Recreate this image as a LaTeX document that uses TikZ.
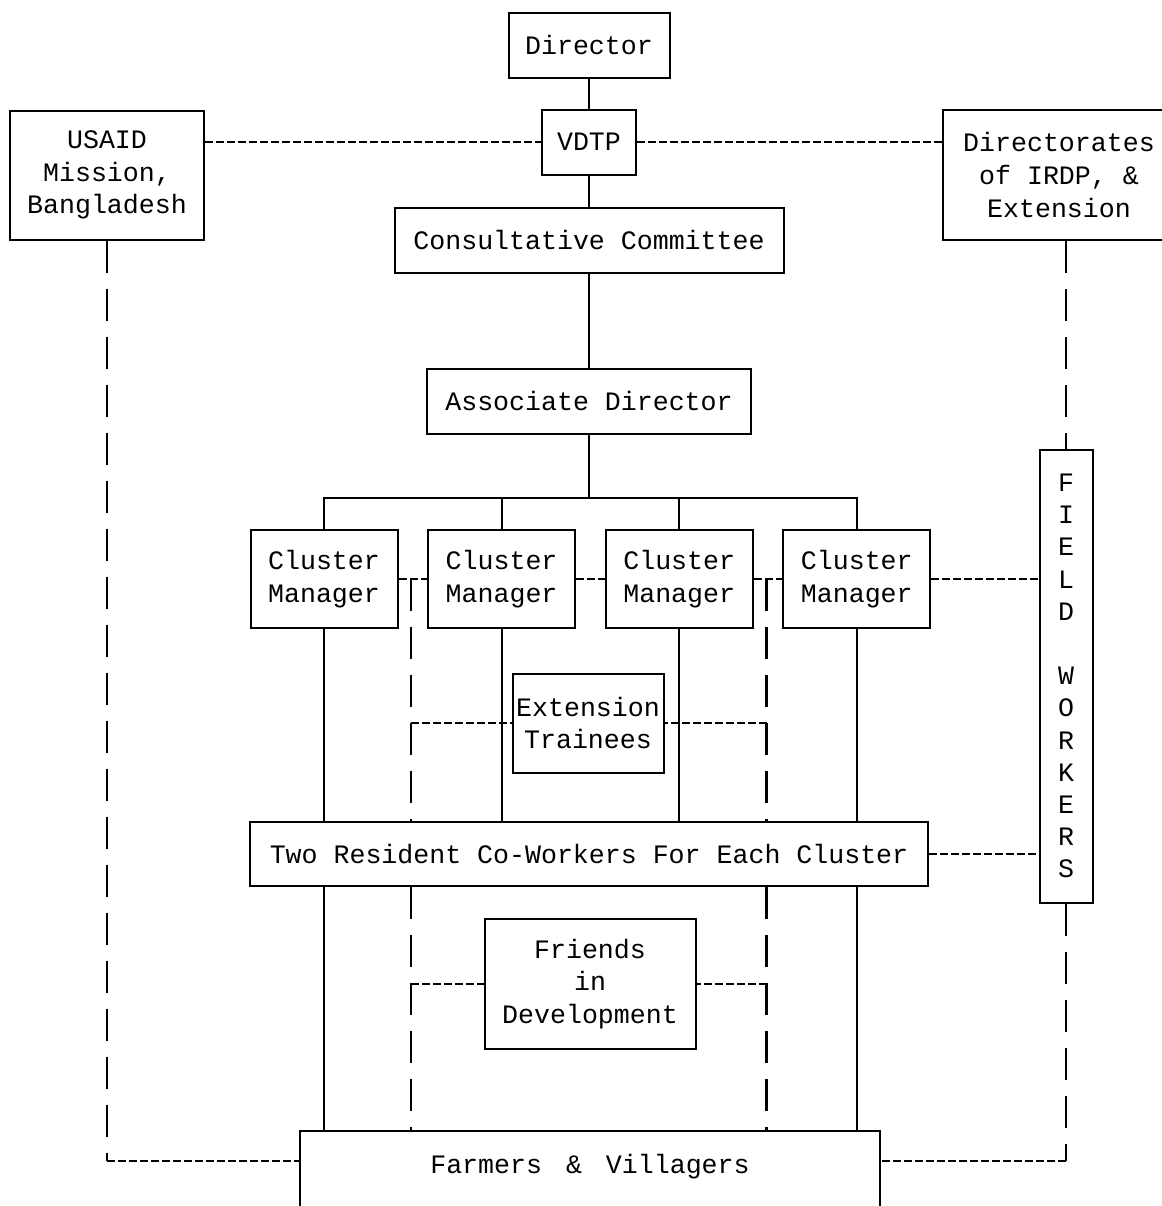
\documentclass[tikz,border=0pt]{standalone}
\usepackage{fontspec}
\newfontfamily\typer{Liberation Mono}
\usetikzlibrary{positioning}
\tikzset{
box/.style={
	  draw, line width=1pt, align=center, inner sep=0pt,
	    font=\typer\fontsize{13.3}{16.3}\selectfont},
linkh/.style={draw, line width=1.1pt, dash pattern=on 4pt off 1.5pt},
linkv/.style={draw, line width=1.1pt, dash pattern=on 16pt off 8pt}
}
\newcommand{\clmgr}{Cluster\\Manager}

\begin{document}
\begin{tikzpicture}[x=0.5pt, y=-0.5pt, line width=1pt,
	mgr/.style={box, minimum width=73.5pt, minimum height=49pt}]
	\useasboundingbox (0,0) rectangle (1162,1206);
	\node[box, minimum width=80.5pt, minimum height=32.5pt] (dir) at (589,45) {Director};
	\node[box, minimum width=47pt, minimum height=32.5pt] (vdtp) at (589,142) {VDTP};
	\node[box, minimum width=97pt, minimum height=64.5pt] (usaid) at (107,175) {USAID\\Mission,\\Bangladesh};
	\node[box, minimum width=116pt, minimum height=65pt] (irdp) at (1059,175) {Directorates\\of IRDP, \&\\Extension};
	\node[box, minimum width=194.5pt, minimum height=32.5pt] (cons) at (589,240) {Consultative Committee};
	\node[box, minimum width=162pt, minimum height=32.5pt] (assoc) at (589,401) {Associate Director};
	\node[mgr] (cm1) at (324,579) {\clmgr};
	\node[mgr, right=14.3pt of cm1] (cm2) {\clmgr};
	\node[mgr, right=14.3pt of cm2] (cm3) {\clmgr};
	\node[mgr, right=14.3pt of cm3] (cm4) {\clmgr};
	\node[box, minimum width=26.5pt, minimum height=226.5pt, font=\typer\fontsize{13.3}{16.1}\selectfont] (field) at (1066,676)
		{F\\I\\E\\L\\D\\~\\W\\O\\R\\K\\E\\R\\S};
	\node[box, minimum width=75.5pt, minimum height=49.5pt] (ext) at (588,723) {Extension\\Trainees};
	\node[box, minimum width=339pt, minimum height=32pt] (crew) at (589,854) {Two Resident Co-Workers For Each Cluster};
	\node[box, minimum width=105.5pt, minimum height=65pt] (friends) at (590,984) {Friends\\in\\Development};
	\node[box, anchor=north, minimum width=290pt, text height=21pt, text depth=40pt] (farm) at (590,1130)
		{Farmers\hspace{12pt}\&\hspace{12pt}Villagers};

	\coordinate (bus) at (589,498);
	\coordinate (fw) at ([yshift=6pt]farm.base west);
	\coordinate (fe) at ([yshift=6pt]farm.base east);
	\path (cm1.east) -- (cm2.west) coordinate[pos=0.45] (la);
	\path (cm3.east) -- (cm4.west) coordinate[pos=0.45] (ra);

	\draw (dir) -- (vdtp);
	\draw (vdtp) -- (cons);
	\draw (cons) -- (assoc);
	\draw (assoc.south) -- (bus);
	\draw (cm1.north) |- (bus) -| (cm4.north);
	\foreach \c in {cm2,cm3} \draw (\c.north) -- (\c.north |- bus);
	\foreach \c in {cm1,cm2,cm3,cm4} \draw (\c.south) -- (\c.south |- crew.north);
	\foreach \c in {cm1,cm4} \draw (\c.south |- crew.south) -- (\c.south |- farm.north);

	\draw[linkh] (usaid.east |- vdtp) -- (vdtp.west);
	\draw[linkh] (vdtp.east) -- (vdtp.east -| irdp.west);
	\draw[linkh] (cm1.east) -- (cm2.west);
	\draw[linkh] (cm2.east) -- (cm3.west);
	\draw[linkh] (cm3.east) -- (cm4.west);
	\draw[linkh] (cm4.east) -- (cm4.east -| field.west);
	\draw[linkh] (crew.east) -- (crew.east -| field.west);

	\foreach \a in {la,ra} {
		\draw[linkv] (\a) -- (\a |- crew.north);
		\draw[linkv] (\a |- crew.south) -- (\a |- farm.north);
	}
	\draw[linkh] (la |- ext) -- (ext.west);
	\draw[linkh] (ra |- ext) -- (ext.east);
	\draw[linkh] (la |- friends) -- (friends.west);
	\draw[linkh] (ra |- friends) -- (friends.east);

	\draw[linkv] (usaid.south) -- (usaid.south |- fw);
	\draw[linkh] (usaid.south |- fw) -- (fw);
	\draw[linkv] (field.north |- irdp.south) -- (field.north);
	\draw[linkv] (field.south) -- (field.south |- fe);
	\draw[linkh] (field.south |- fe) -- (fe);
\end{tikzpicture}
\end{document}
